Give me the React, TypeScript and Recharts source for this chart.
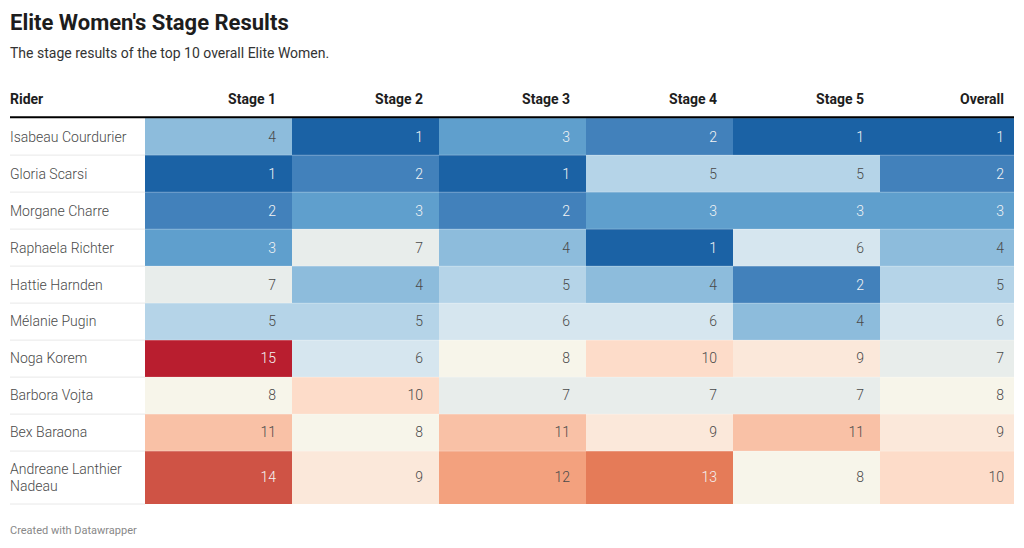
import React from 'react';
import { ComposedChart, XAxis, YAxis, ReferenceArea, ReferenceLine } from 'recharts';

// ---------- data ----------
const riders = [
  'Isabeau Courdurier',
  'Gloria Scarsi',
  'Morgane Charre',
  'Raphaela Richter',
  'Hattie Harnden',
  'Mélanie Pugin',
  'Noga Korem',
  'Barbora Vojta',
  'Bex Baraona',
  'Andreane Lanthier Nadeau',
];
const columnLabels = ['Stage 1', 'Stage 2', 'Stage 3', 'Stage 4', 'Stage 5', 'Overall'];
const stage1 = [4, 1, 2, 3, 7, 5, 15, 8, 11, 14];
const stage2 = [1, 2, 3, 7, 4, 5, 6, 10, 8, 9];
const stage3 = [3, 1, 2, 4, 5, 6, 8, 7, 11, 12];
const stage4 = [2, 5, 3, 1, 4, 6, 10, 7, 9, 13];
const stage5 = [1, 5, 3, 6, 2, 4, 9, 7, 11, 8];
const overall = [1, 2, 3, 4, 5, 6, 7, 8, 9, 10];
const columnValues = [stage1, stage2, stage3, stage4, stage5, overall];

// ---------- styles ----------
// rank 1..15 colour scale (RdBu like)
const rankColors = [
  '#1b62a5', '#4281bb', '#5f9fcd', '#8dbcdc', '#b5d4e8',
  '#d6e6ef', '#e8edeb', '#f7f5ea', '#fbe8da', '#fddcc9',
  '#f9c1a6', '#f3a17e', '#e57b58', '#cf5345', '#b91e2f',
];
const darkRanks = [1, 2, 3, 13, 14, 15];
const FONT = 'Roboto, sans-serif';

// layout weights (not data)
const RIDER_COL = 135;
const STAGE_COL = 147;
const LAST_COL = 134;
const HEADER_ROW = 1.03;
const ROW = 1;
const WRAPPED_ROW = 1.43;
const MAX_CHARS = 18;

function wrap(name: string): string[] {
  const words = name.split(' ');
  const lines: string[] = [];
  let cur = '';
  for (const w of words) {
    const next = cur ? cur + ' ' + w : w;
    if (next.length > MAX_CHARS && cur) {
      lines.push(cur);
      cur = w;
    } else cur = next;
  }
  if (cur) lines.push(cur);
  return lines;
}

const riderLines = riders.map(wrap);
const colWidths = [RIDER_COL, ...columnLabels.map((_, i) => (i === columnLabels.length - 1 ? LAST_COL : STAGE_COL))];
const colEdges: number[] = [0];
colWidths.forEach((w) => colEdges.push(colEdges[colEdges.length - 1] + w));
const rowHeights = [HEADER_ROW, ...riderLines.map((l) => (l.length > 1 ? WRAPPED_ROW : ROW))];
const rowEdges: number[] = [0];
rowHeights.forEach((h) => rowEdges.push(rowEdges[rowEdges.length - 1] + h));
const X_MAX = colEdges[colEdges.length - 1];
const Y_MAX = rowEdges[rowEdges.length - 1];

const tableData = riders.map((r, i) => ({
  rider: r,
  stage1: stage1[i],
  stage2: stage2[i],
  stage3: stage3[i],
  stage4: stage4[i],
  stage5: stage5[i],
  overall: overall[i],
}));

export default function App() {
  const cells: React.ReactNode[] = [];
  // header
  ['Rider', ...columnLabels].forEach((label, c) => {
    const isFirst = c === 0;
    const pad = c === colWidths.length - 1 ? 10 : 16;
    cells.push(
      <ReferenceArea
        key={'h' + c}
        x1={colEdges[c]}
        x2={colEdges[c + 1]}
        y1={rowEdges[0]}
        y2={rowEdges[1]}
        ifOverflow="visible"
        shape={(p: any) => (
          <text
            x={isFirst ? p.x : p.x + p.width - pad}
            y={p.y + p.height / 2}
            dy="0.35em"
            textAnchor={isFirst ? 'start' : 'end'}
            fontFamily={FONT}
            fontSize={14}
            fontWeight={700}
            fill="#1d1d1d"
          >
            {label}
          </text>
        )}
      />
    );
  });
  // rider separators
  riders.forEach((_, r) => {
    cells.push(
      <ReferenceLine
        key={'sep' + r}
        ifOverflow="visible"
        segment={[
          { x: colEdges[0], y: rowEdges[r + 2] },
          { x: colEdges[1], y: rowEdges[r + 2] },
        ]}
        stroke="#e8e8e8"
        strokeWidth={1}
      />
    );
  });
  // rider names
  riders.forEach((_, r) => {
    const lines = riderLines[r];
    cells.push(
      <ReferenceArea
        key={'r' + r}
        x1={colEdges[0]}
        x2={colEdges[1]}
        y1={rowEdges[r + 1]}
        y2={rowEdges[r + 2]}
        ifOverflow="visible"
        shape={(p: any) => (
          <text x={p.x} y={p.y + p.height / 2} fontFamily={FONT} fontSize={14} fontWeight={300} fill="#4a4a4a">
            {lines.map((ln, k) => (
              <tspan key={k} x={p.x} dy={k === 0 ? `${0.35 - ((lines.length - 1) * 1.2) / 2}em` : '1.2em'}>
                {ln}
              </tspan>
            ))}
          </text>
        )}
      />
    );
  });
  // value cells
  columnValues.forEach((vals, c) => {
    const pad = c === columnValues.length - 1 ? 10 : 16;
    vals.forEach((v, r) => {
      const fill = rankColors[v - 1];
      const dark = darkRanks.includes(v);
      cells.push(
        <ReferenceArea
          key={`c${c}-${r}`}
          x1={colEdges[c + 1]}
          x2={colEdges[c + 2]}
          y1={rowEdges[r + 1]}
          y2={rowEdges[r + 2]}
          ifOverflow="visible"
          shape={(p: any) => (
            <g>
              <rect x={p.x} y={p.y} width={p.width} height={p.height} fill={fill} />
              <text
                x={p.x + p.width - pad}
                y={p.y + p.height / 2}
                dy="0.35em"
                textAnchor="end"
                fontFamily={FONT}
                fontSize={14}
                fontWeight={300}
                fill={dark ? '#f4f4f4' : '#4a4a4a'}
              >
                {v}
              </text>
            </g>
          )}
        />
      );
    });
  });
  // faint row lines over the cells
  riders.slice(0, -1).forEach((_, r) => {
    cells.push(
      <ReferenceLine
        key={'rl' + r}
        ifOverflow="visible"
        segment={[
          { x: colEdges[1], y: rowEdges[r + 2] },
          { x: X_MAX, y: rowEdges[r + 2] },
        ]}
        stroke="rgba(255,255,255,0.22)"
        strokeWidth={1}
      />
    );
  });

  return (
    <div style={{ position: 'absolute', left: 0, top: 0, width: 1024, height: 548, background: '#fff', fontFamily: FONT }}>
      <div style={{ position: 'absolute', left: 10, top: 10, fontSize: 22, lineHeight: '26px', fontWeight: 700, color: '#1d1d1d' }}>
        Elite Women's Stage Results
      </div>
      <div style={{ position: 'absolute', left: 10, top: 43, fontSize: 14, lineHeight: '20px', color: '#333' }}>
        The stage results of the top 10 overall Elite Women.
      </div>
      <div style={{ position: 'absolute', left: 0, top: 0 }}>
        <ComposedChart width={1024} height={548} data={tableData} margin={{ top: 80, right: 10, bottom: 44, left: 10 }}>
          <XAxis type="number" dataKey="stage1" domain={[0, X_MAX]} hide allowDataOverflow />
          <YAxis type="number" domain={[0, Y_MAX]} reversed hide allowDataOverflow width={0} />
          {cells}
          <ReferenceLine y={rowEdges[1] - 0.02} stroke="#000" strokeWidth={2} ifOverflow="visible" />
        </ComposedChart>
      </div>
      <div style={{ position: 'absolute', left: 10, top: 524, fontSize: 11, lineHeight: '14px', color: '#888' }}>
        Created with Datawrapper
      </div>
    </div>
  );
}
